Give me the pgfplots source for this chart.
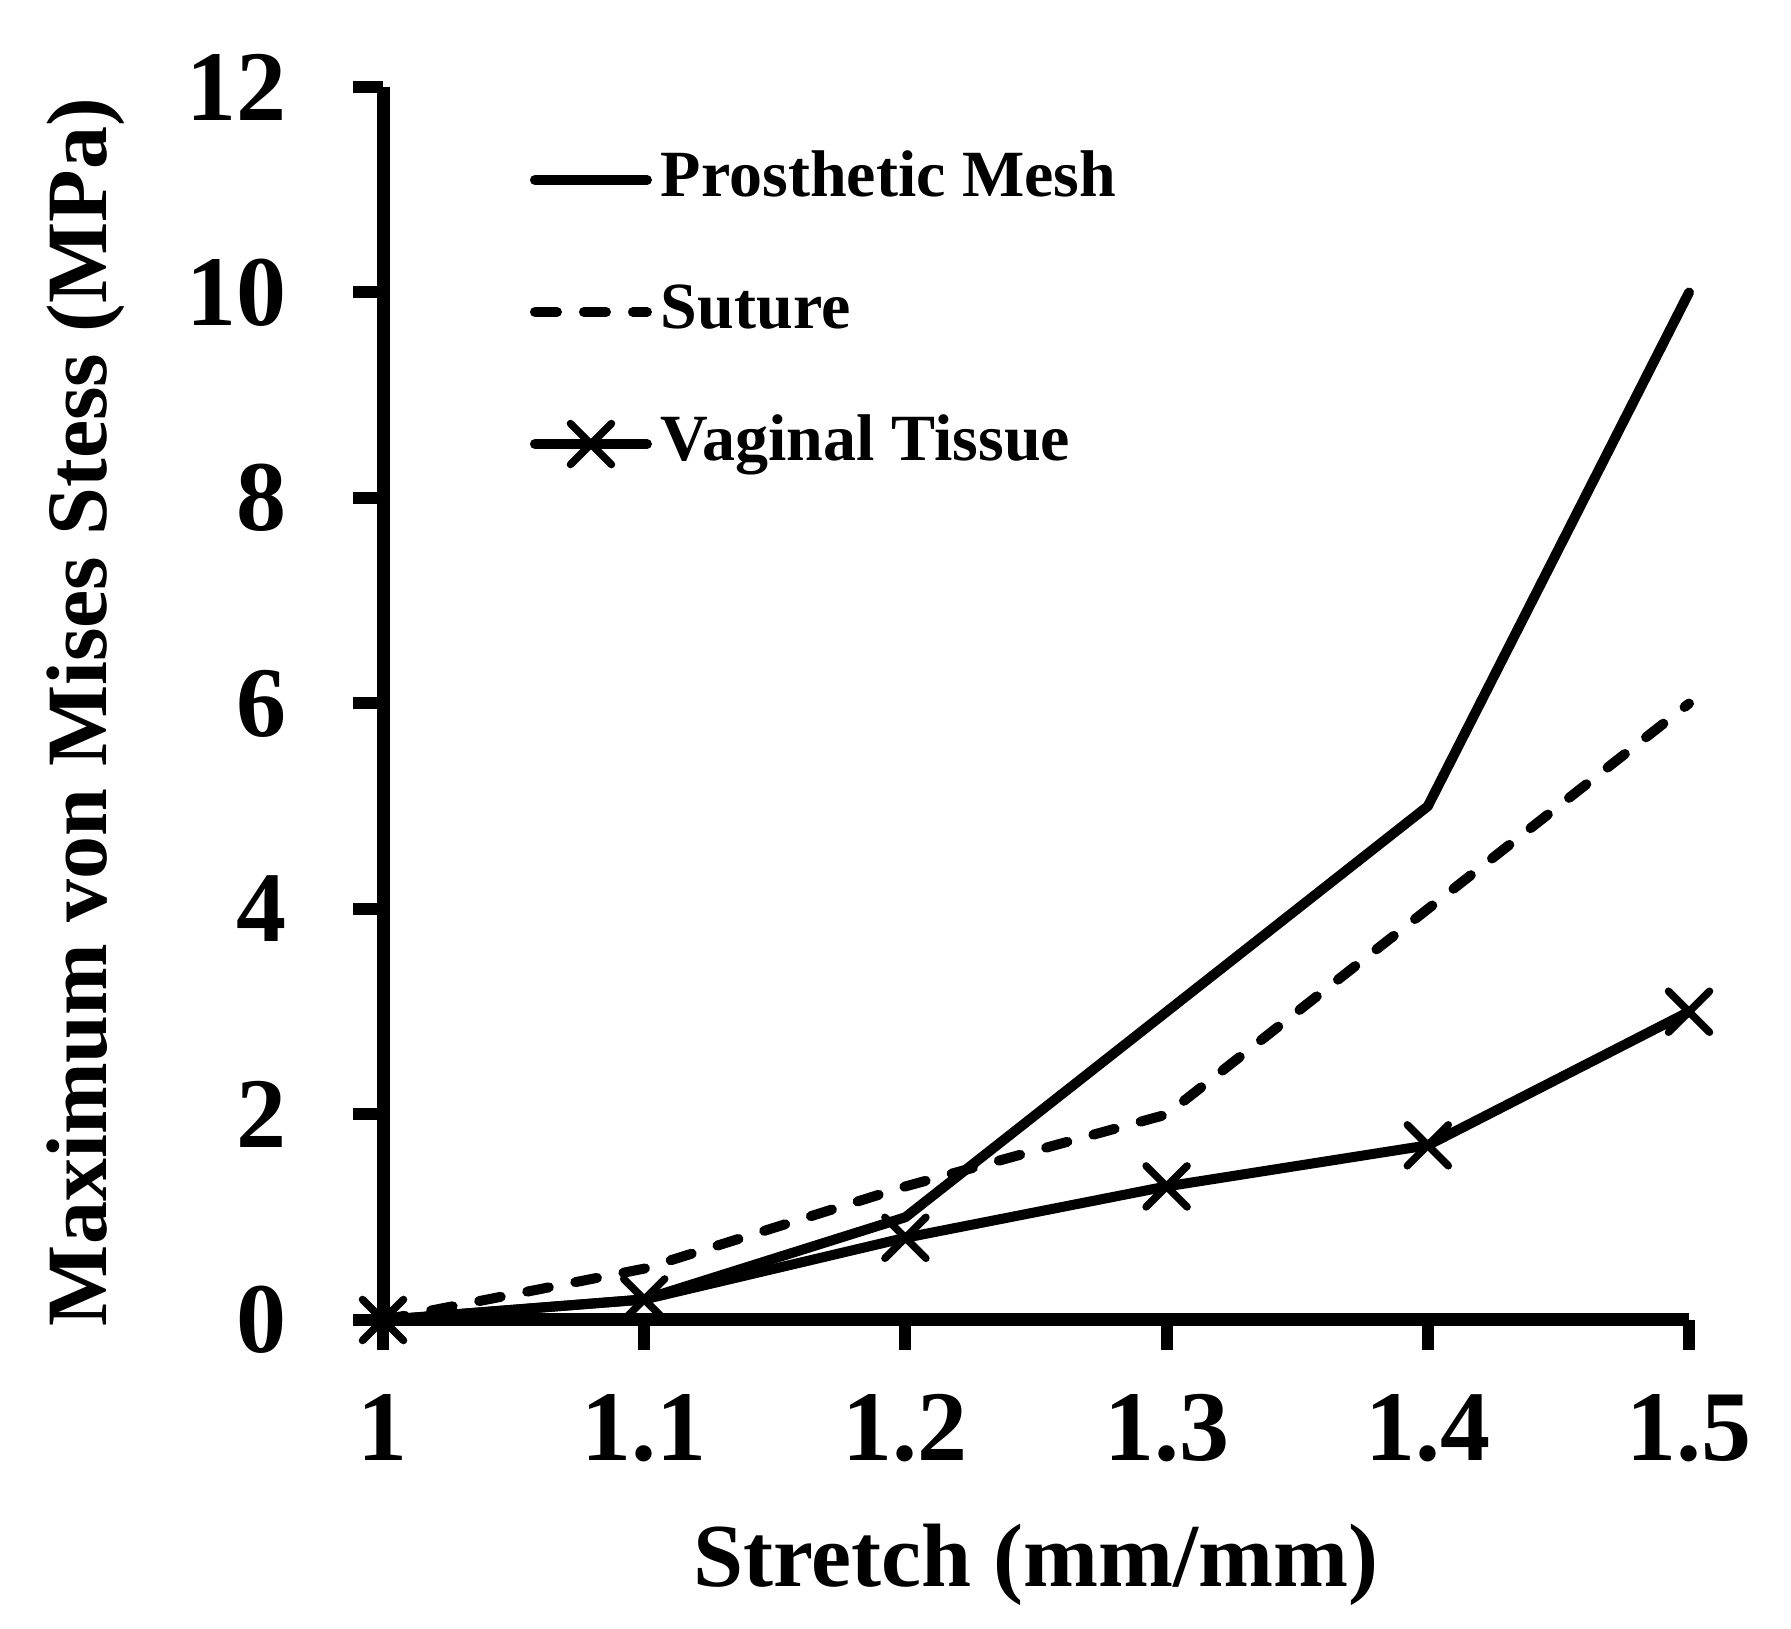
\documentclass[border=0pt]{standalone}
\usepackage{fontspec}
\setmainfont{Liberation Serif}
\usepackage{pgfplots}
\pgfplotsset{compat=1.18}
\begin{document}
\begin{tikzpicture}
\useasboundingbox (0,0) rectangle (179.1pt,162.9pt);
\begin{axis}[
  at={(38.3pt,30.9pt)}, anchor=south west,
  scale only axis, width=130.6pt, height=123.3pt,
  xmin=1, xmax=1.5, ymin=0, ymax=12,
  clip=false,
  axis x line*=bottom, axis y line*=left,
  axis line style={line width=1.3pt},
  xtick={1,1.1,1.2,1.3,1.4,1.5},
  xticklabels={1,1.1,1.2,1.3,1.4,1.5},
  ytick={0,2,4,6,8,10,12},
  tick align=outside, major tick length=3pt,
  every tick/.style={black, line width=1.2pt},
  /pgf/number format/assume math mode=true,
  tick label style={font=\bfseries\fontsize{10}{12}\selectfont, inner sep=0pt},
  yticklabel shift=6.4pt,
  xticklabel shift=4.2pt,
  every axis x label/.style={at={(axis description cs:0.5,-0.216)}, anchor=base, font=\bfseries\fontsize{9}{11}\selectfont, inner sep=0pt},
  every axis y label/.style={at={(axis description cs:-0.212,0.493)}, rotate=90, anchor=base, font=\bfseries\fontsize{8.6}{11}\selectfont, inner sep=0pt},
  xlabel={Stretch (mm/mm)},
  ylabel={Maximum von Mises Stess (MPa)},
  legend cell align=left,
  legend image code/.code={\draw[mark repeat=2,mark phase=2,#1] plot coordinates {(0pt,0pt) (5.6pt,0pt) (11.2pt,0pt)};},
  legend style={draw=none, fill=none, at={(0.111,0.9505)}, anchor=north west,
    font=\bfseries\fontsize{6.6}{8}\selectfont, inner sep=0pt,
    row sep=7.2pt, column sep=0.9pt,
    nodes={inner sep=0pt, text height=4.6pt, text depth=1.4pt}},
]
\addplot[black, line width=1pt, line cap=round, line join=round]
  coordinates {(1,0) (1.1,0.2) (1.2,1) (1.3,3) (1.4,5) (1.5,10)};
\addlegendentry{Prosthetic Mesh}
\addplot[black, line width=1pt, line cap=round, line join=round, dash pattern=on 2.2pt off 2.7pt]
  coordinates {(1,0) (1.1,0.5) (1.2,1.3) (1.3,2) (1.4,4) (1.5,6)};
\addlegendentry{Suture}
\addplot[black, line width=1pt, line cap=round, line join=round, mark=x, mark size=2.9pt, mark options={solid, line width=0.75pt}]
  coordinates {(1,0) (1.1,0.2) (1.2,0.8) (1.3,1.3) (1.4,1.7) (1.5,3)};
\addlegendentry{Vaginal Tissue}
\end{axis}
\end{tikzpicture}
\end{document}
